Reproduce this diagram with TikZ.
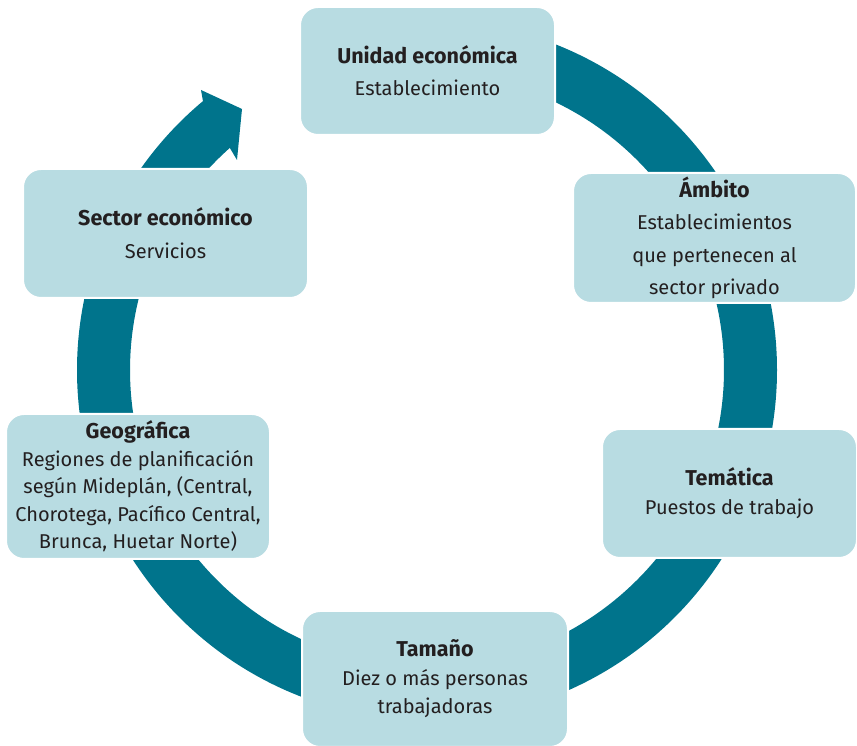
\documentclass[tikz,border=0pt]{standalone}
\usepackage{fontspec}
\setmainfont{Fira Sans}
\definecolor{ringc}{HTML}{00748C}
\definecolor{boxc}{HTML}{B8DCE2}
\definecolor{txtc}{HTML}{231F20}
\newcommand\boxtitle[1]{{\fontsize{21.5}{0}\selectfont\bfseries #1}}
\begin{document}
\begin{tikzpicture}[x=1pt,y=1pt,
  infobox/.style={rounded corners=18pt, fill=boxc, draw=white, line width=2pt,
    align=center, text=txtc, inner sep=0pt, anchor=center}]
\useasboundingbox (0,0) rectangle (857,746);
% ring with arrowhead
\begin{scope}[shift={(427,376)}]
\fill[ringc] (90:350) arc[start angle=90, end angle=-230.2, radius=350]
  -- (-226,280) -- (-185,261) -- (-190,210) -- (-228.4:297)
  arc[start angle=-228.4, end angle=90, radius=297] -- cycle;
\end{scope}
% boxes
\node[infobox, minimum width=255pt, minimum height=128pt,
  font=\fontsize{20}{32}\selectfont] (unidad) at (427.5,675)
  {\boxtitle{Unidad económica}\\Establecimiento};
\node[infobox, minimum width=283pt, minimum height=130pt,
  font=\fontsize{20}{32.5}\selectfont] (ambito) at (714.5,508)
  {\boxtitle{Ámbito}\\Establecimientos\\que pertenecen al\\sector privado};
\node[infobox, minimum width=255pt, minimum height=129pt,
  font=\fontsize{20}{29}\selectfont] (tematica) at (729.5,252.5)
  {\boxtitle{Temática}\\Puestos de trabajo};
\node[infobox, minimum width=266pt, minimum height=136pt,
  font=\fontsize{20}{28.5}\selectfont] (tamano) at (435,67)
  {\boxtitle{Tamaño}\\Diez o más personas\\trabajadoras};
\node[infobox, minimum width=264pt, minimum height=145pt,
  font=\fontsize{20}{27.5}\selectfont] (geo) at (138,259.5)
  {\boxtitle{Geográfica}\\Regiones de planificación\\según Mideplán, (Central,\\Chorotega, Pacífico Central,\\Brunca, Huetar Norte)};
\node[infobox, minimum width=285pt, minimum height=129pt,
  font=\fontsize{20}{33}\selectfont] (sector) at (165.5,512.5)
  {\boxtitle{Sector económico}\\Servicios};
\end{tikzpicture}
\end{document}
